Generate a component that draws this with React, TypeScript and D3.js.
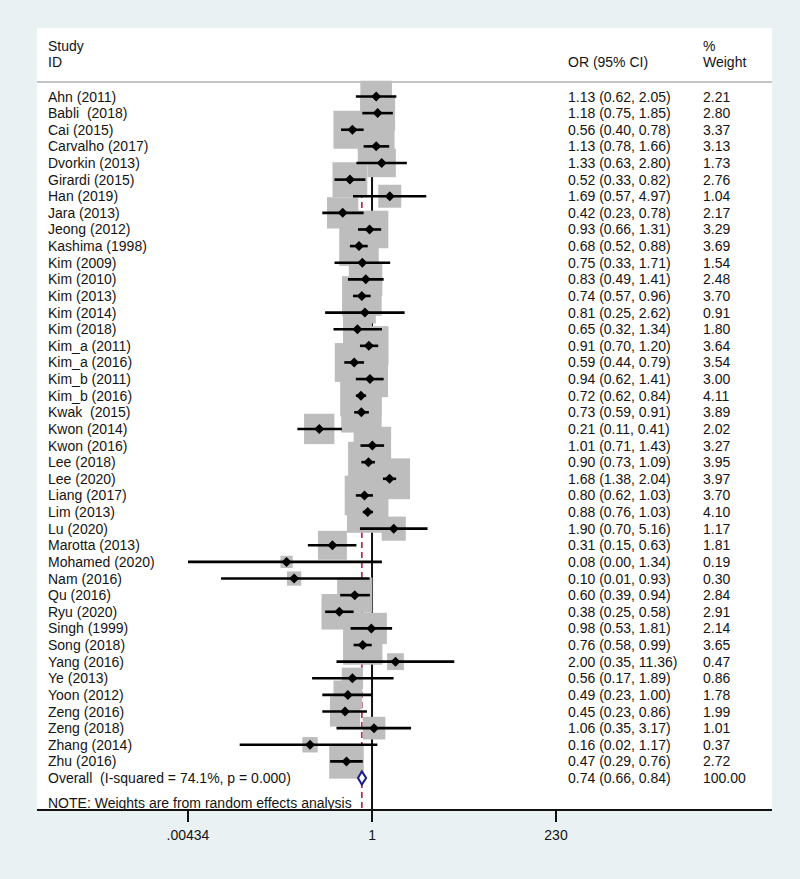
import React from "react";
import * as d3 from "d3";

const studies = [
  "Ahn (2011)", "Babli  (2018)", "Cai (2015)", "Carvalho (2017)", "Dvorkin (2013)",
  "Girardi (2015)", "Han (2019)", "Jara (2013)", "Jeong (2012)", "Kashima (1998)",
  "Kim (2009)", "Kim (2010)", "Kim (2013)", "Kim (2014)", "Kim (2018)",
  "Kim_a (2011)", "Kim_a (2016)", "Kim_b (2011)", "Kim_b (2016)", "Kwak  (2015)",
  "Kwon (2014)", "Kwon (2016)", "Lee (2018)", "Lee (2020)", "Liang (2017)",
  "Lim (2013)", "Lu (2020)", "Marotta (2013)", "Mohamed (2020)", "Nam (2016)",
  "Qu (2016)", "Ryu (2020)", "Singh (1999)", "Song (2018)", "Yang (2016)",
  "Ye (2013)", "Yoon (2012)", "Zeng (2016)", "Zeng (2018)", "Zhang (2014)",
  "Zhu (2016)",
];
const orValues = [
  1.13, 1.18, 0.56, 1.13, 1.33, 0.52, 1.69, 0.42, 0.93, 0.68,
  0.75, 0.83, 0.74, 0.81, 0.65, 0.91, 0.59, 0.94, 0.72, 0.73,
  0.21, 1.01, 0.90, 1.68, 0.80, 0.88, 1.90, 0.31, 0.08, 0.10,
  0.60, 0.38, 0.98, 0.76, 2.00, 0.56, 0.49, 0.45, 1.06, 0.16,
  0.47,
];
const ciLower = [
  0.62, 0.75, 0.40, 0.78, 0.63, 0.33, 0.57, 0.23, 0.66, 0.52,
  0.33, 0.49, 0.57, 0.25, 0.32, 0.70, 0.44, 0.62, 0.62, 0.59,
  0.11, 0.71, 0.73, 1.38, 0.62, 0.76, 0.70, 0.15, 0.00434, 0.0115,
  0.39, 0.25, 0.53, 0.58, 0.35, 0.17, 0.23, 0.23, 0.35, 0.02,
  0.29,
];
const ciUpper = [
  2.05, 1.85, 0.78, 1.66, 2.80, 0.82, 4.97, 0.78, 1.31, 0.88,
  1.71, 1.41, 0.96, 2.62, 1.34, 1.20, 0.79, 1.41, 0.84, 0.91,
  0.41, 1.43, 1.09, 2.04, 1.03, 1.03, 5.16, 0.63, 1.34, 0.93,
  0.94, 0.58, 1.81, 0.99, 11.36, 1.89, 1.00, 0.86, 3.17, 1.17,
  0.76,
];
const weights = [
  2.21, 2.80, 3.37, 3.13, 1.73, 2.76, 1.04, 2.17, 3.29, 3.69,
  1.54, 2.48, 3.70, 0.91, 1.80, 3.64, 3.54, 3.00, 4.11, 3.89,
  2.02, 3.27, 3.95, 3.97, 3.70, 4.10, 1.17, 1.81, 0.19, 0.30,
  2.84, 2.91, 2.14, 3.65, 0.47, 0.86, 1.78, 1.99, 1.01, 0.37,
  2.72,
];
const overallLabel = "Overall  (I-squared = 74.1%, p = 0.000)";
const overallOR = 0.74;
const overallLower = 0.66;
const overallUpper = 0.84;
const overallWeight = 100.0;
const noteText = "NOTE: Weights are from random effects analysis";
const headerStudy = ["Study", "ID"];
const headerCI = "OR (95% CI)";
const headerWeight = ["%", "Weight"];
const axisTicks = [0.00434, 1, 230];
const axisTickLabels = [".00434", "1", "230"];

const W = 800;
const H = 879;
const panel = { left: 37, right: 772, top: 28, bottom: 810 };
const FONT = "'Liberation Sans', Arial, Helvetica, sans-serif";
const TEXT = "#141414";

export default function App() {
  const f2 = d3.format(".2f");
  const x = d3.scaleLog().domain([0.00434, 230]).range([188, 556]).clamp(true);
  const y = d3.scaleLinear().domain([0, studies.length]).range([96.5, 778]);
  const box = d3.scaleSqrt().domain([0, d3.max(weights) as number]).range([4.2, 41.5]);

  const colName = 48;
  const colCI = 568;
  const colW = 703;
  const fs = 14;
  const base = 5; // baseline offset from row center

  const diamondPath = (cx: number, cy: number, r: number) =>
    `M${cx},${cy - r}L${cx + r},${cy}L${cx},${cy + r}L${cx - r},${cy}Z`;

  const oy = y(studies.length);
  const ovDiamond = `M${x(overallLower)},${oy}L${x(overallOR)},${oy - 6.5}L${x(
    overallUpper
  )},${oy}L${x(overallOR)},${oy + 6.5}Z`;

  return (
    <svg
      width={W}
      height={H}
      style={{ position: "absolute", left: 0, top: 0, fontFamily: FONT }}
    >
      <rect x={0} y={0} width={W} height={H} fill="#e9f1f3" />
      <rect
        x={panel.left}
        y={panel.top}
        width={panel.right - panel.left}
        height={panel.bottom - panel.top}
        fill="#ffffff"
      />
      {/* header */}
      <g fontSize={fs} fill={TEXT}>
        <text x={colName} y={51}>{headerStudy[0]}</text>
        <text x={colName} y={67}>{headerStudy[1]}</text>
        <text x={colCI} y={67}>{headerCI}</text>
        <text x={colW} y={51}>{headerWeight[0]}</text>
        <text x={colW} y={67}>{headerWeight[1]}</text>
      </g>
      <line
        x1={panel.left}
        x2={panel.right}
        y1={82}
        y2={82}
        stroke="#c4c4c4"
        strokeWidth={2}
      />
      {/* null line and overall line */}
      <line x1={x(1)} x2={x(1)} y1={82} y2={panel.bottom} stroke="#111" strokeWidth={2} />
      <line
        x1={x(overallOR)}
        x2={x(overallOR)}
        y1={82}
        y2={panel.bottom}
        stroke="#b8344a"
        strokeWidth={1.8}
        strokeDasharray="6,4"
      />
      {/* boxes */}
      <g fill="#bdbdbd">
        {studies.map((s, i) => {
          const sz = box(weights[i]);
          return (
            <rect
              key={s + i}
              x={x(orValues[i]) - sz / 2}
              y={y(i) - sz / 2}
              width={sz}
              height={sz}
            />
          );
        })}
      </g>
      {/* CI lines */}
      <g stroke="#000" strokeWidth={2.6}>
        {studies.map((s, i) => (
          <line
            key={s + i}
            x1={x(ciLower[i])}
            x2={x(ciUpper[i])}
            y1={y(i)}
            y2={y(i)}
          />
        ))}
      </g>
      {/* point markers */}
      <g fill="#000">
        {studies.map((s, i) => (
          <path key={s + i} d={diamondPath(x(orValues[i]), y(i), 5)} />
        ))}
      </g>
      {/* overall diamond */}
      <path d={ovDiamond} fill="#fff" stroke="#1c1c8c" strokeWidth={2} />
      {/* text rows */}
      <g fontSize={fs} fill={TEXT} style={{ whiteSpace: "pre" }}>
        {studies.map((s, i) => (
          <g key={s + i}>
            <text x={colName} y={y(i) + base} xmlSpace="preserve">{s}</text>
            <text x={colCI} y={y(i) + base}>
              {`${f2(orValues[i])} (${f2(ciLower[i])}, ${f2(ciUpper[i])})`}
            </text>
            <text x={colW} y={y(i) + base}>{f2(weights[i])}</text>
          </g>
        ))}
        <text x={colName} y={oy + base} xmlSpace="preserve">{overallLabel}</text>
        <text x={colCI} y={oy + base}>
          {`${f2(overallOR)} (${f2(overallLower)}, ${f2(overallUpper)})`}
        </text>
        <text x={colW} y={oy + base}>{f2(overallWeight)}</text>
        <text x={colName} y={y(studies.length + 1.5) + base}>{noteText}</text>
      </g>
      {/* axis */}
      <line
        x1={panel.left}
        x2={panel.right}
        y1={panel.bottom}
        y2={panel.bottom}
        stroke="#111"
        strokeWidth={2}
      />
      <g>
        {axisTicks.map((t, i) => (
          <g key={t}>
            <line
              x1={x(t)}
              x2={x(t)}
              y1={panel.bottom}
              y2={panel.bottom + 12}
              stroke="#111"
              strokeWidth={2}
            />
            <text
              x={x(t)}
              y={840}
              fontSize={fs}
              fill={TEXT}
              textAnchor="middle"
            >
              {axisTickLabels[i]}
            </text>
          </g>
        ))}
      </g>
    </svg>
  );
}
